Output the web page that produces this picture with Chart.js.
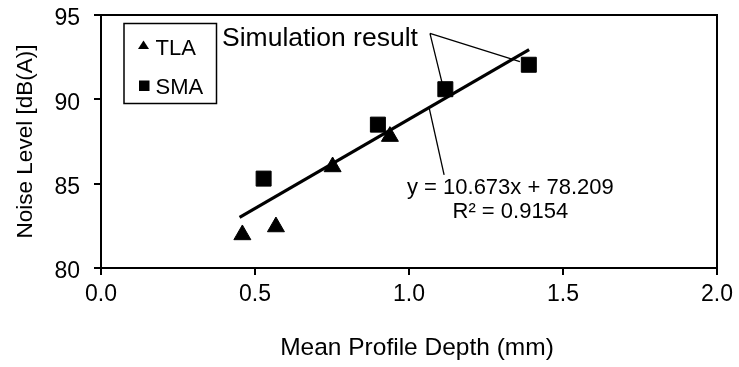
<!DOCTYPE html>
<html>
<head>
<meta charset="utf-8">
<script src="https://cdn.jsdelivr.net/npm/chart.js@4/dist/chart.umd.min.js"></script>
<style>
  body { margin: 0; background: #fff; }
  #wrap { width: 739px; height: 367px; }
</style>
</head>
<body>
<div id="wrap"><canvas id="noiseChart" width="739" height="367"></canvas></div>
<script>
// measured values (Mean Profile Depth in mm, Noise Level in dB(A))
const tlaDepth = [0.459, 0.568, 0.752, 0.938];
const tlaNoise = [81.97, 82.44, 86.0, 87.8];
const smaDepth = [0.528, 0.899, 1.118, 1.389];
const smaNoise = [85.3, 88.5, 90.6, 92.05];

// fitted line as drawn in the picture
const fitDepth = [0.45, 1.39];
const fitNoise = [83.0, 92.95];
const fitLabel = ['y = 10.673x + 78.209', 'R\u00b2 = 0.9154'];

const xTickLabels = ['0.0', '0.5', '1.0', '1.5', '2.0'];
const yTickLabels = ['80', '85', '90', '95'];
const seriesNames = ['TLA', 'SMA'];
const xTitle = 'Mean Profile Depth (mm)';

const FONT = "'Liberation Sans', Arial, sans-serif";

const toPoints = (xs, ys) => xs.map((v, i) => ({ x: v, y: ys[i] }));

// legend, box frame and callouts
const extras = {
  id: 'extras',
  afterDraw(chart) {
    const { ctx, chartArea: a, scales: { x, y } } = chart;
    ctx.save();
    ctx.strokeStyle = '#000';
    ctx.fillStyle = '#000';

    // top + right frame
    ctx.lineWidth = 2;
    ctx.strokeRect(a.left, a.top, a.right - a.left, a.bottom - a.top);

    // x title sits a little right of the plot centre in the original
    ctx.font = '24.5px ' + FONT;
    ctx.textAlign = 'center';
    ctx.textBaseline = 'middle';
    ctx.fillText(xTitle, 417, 348);

    // legend box
    ctx.lineWidth = 1.5;
    ctx.strokeRect(124, 23.5, 92.5, 80);
    ctx.font = '22px ' + FONT;
    ctx.textAlign = 'left';
    // triangle
    ctx.beginPath();
    ctx.moveTo(143.5, 40.5);
    ctx.lineTo(149, 49);
    ctx.lineTo(138, 49);
    ctx.closePath();
    ctx.fill();
    ctx.fillText(seriesNames[0], 155.5, 48.5);
    // square
    ctx.fillRect(139, 80.5, 10.5, 10.5);
    ctx.fillText(seriesNames[1], 155.5, 88);

    // "Simulation result" callout
    ctx.font = '26.5px ' + FONT;
    ctx.textBaseline = 'alphabetic';
    ctx.fillText('Simulation result', 222, 45.5);
    ctx.lineWidth = 1.3;
    const hub = [x.getPixelForValue(1.068), y.getPixelForValue(93.91)];
    ctx.beginPath();
    ctx.moveTo(hub[0], hub[1]);
    ctx.lineTo(x.getPixelForValue(1.111), y.getPixelForValue(90.71));
    ctx.moveTo(hub[0], hub[1]);
    ctx.lineTo(x.getPixelForValue(1.36), y.getPixelForValue(92.23));
    ctx.stroke();

    // equation callout
    ctx.beginPath();
    ctx.moveTo(x.getPixelForValue(1.066), y.getPixelForValue(89.45));
    ctx.lineTo(x.getPixelForValue(1.114), y.getPixelForValue(85.52));
    ctx.stroke();
    ctx.font = '22px ' + FONT;
    ctx.textAlign = 'center';
    ctx.textBaseline = 'middle';
    const cx = x.getPixelForValue(1.329);
    ctx.fillText(fitLabel[0], cx, y.getPixelForValue(84.72));
    ctx.fillText(fitLabel[1], cx, y.getPixelForValue(83.32));
    ctx.restore();
  }
};

new Chart(document.getElementById('noiseChart'), {
  type: 'scatter',
  data: {
    datasets: [
      {
        label: 'Trend',
        data: toPoints(fitDepth, fitNoise),
        showLine: true,
        borderColor: '#000',
        borderWidth: 3.2,
        pointRadius: 0
      },
      {
        label: seriesNames[0],
        data: toPoints(tlaDepth, tlaNoise),
        pointStyle: 'triangle',
        pointRadius: 9.8,
        backgroundColor: '#000',
        borderColor: '#000',
        borderWidth: 1
      },
      {
        label: seriesNames[1],
        data: toPoints(smaDepth, smaNoise),
        pointStyle: 'rect',
        pointRadius: 10.6,
        backgroundColor: '#000',
        borderColor: '#000',
        borderWidth: 1
      }
    ]
  },
  options: {
    responsive: false,
    animation: false,
    layout: { padding: { top: 15, right: 22, left: 0, bottom: 0 } },
    plugins: {
      legend: { display: false },
      tooltip: { enabled: false }
    },
    scales: {
      x: {
        type: 'linear',
        min: 0,
        max: 2,
        afterFit: s => { s.height = 99; s.paddingLeft = 0; s.paddingRight = 0; },
        afterBuildTicks: s => { s.ticks = xTickLabels.map(t => ({ value: parseFloat(t) })); },
        ticks: {
          autoSkip: false,
          color: '#000',
          padding: 6,
          font: { family: FONT, size: 23 },
          callback: (v, i) => xTickLabels[i]
        },
        grid: { drawOnChartArea: false, drawTicks: true, tickLength: 7, color: '#000', lineWidth: 2 },
        border: { display: true, color: '#000', width: 2 },
        title: { display: false }
      },
      y: {
        type: 'linear',
        min: 80,
        max: 95,
        afterFit: s => { s.width = 101; s.paddingTop = 0; s.paddingBottom = 0; },
        afterBuildTicks: s => { s.ticks = yTickLabels.map(t => ({ value: parseFloat(t) })); },
        ticks: {
          autoSkip: false,
          color: '#000',
          padding: 14,
          labelOffset: 4,
          font: { family: FONT, size: 23 },
          callback: (v, i) => yTickLabels[i]
        },
        grid: { drawOnChartArea: false, drawTicks: true, tickLength: 7, color: '#000', lineWidth: 2 },
        border: { display: true, color: '#000', width: 2 },
        title: {
          display: true,
          text: 'Noise Level [dB(A)]',
          color: '#000',
          font: { family: FONT, size: 22.5 },
          padding: { top: 12, bottom: 0 }
        }
      }
    }
  },
  plugins: [extras]
});
</script>
</body>
</html>
